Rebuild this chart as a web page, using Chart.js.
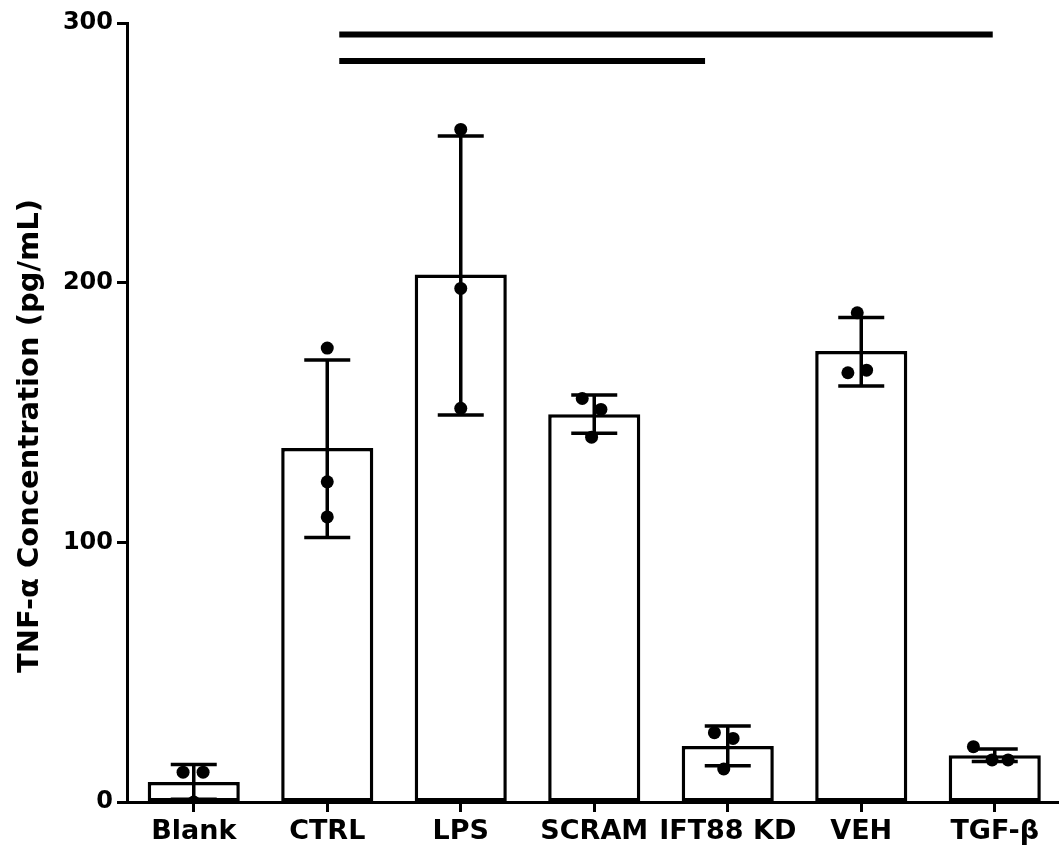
<!DOCTYPE html>
<html>
<head>
<meta charset="utf-8">
<script src="https://cdn.jsdelivr.net/npm/chart.js@4"></script>
<style>
  html, body { margin: 0; padding: 0; background: #fff; overflow: hidden; }
  #wrap { width: 1068px; height: 857px; }
</style>
</head>
<body>
<div id="wrap"><canvas id="c" width="1068" height="857"></canvas></div>
<script>
// TNF-α, média ± DP com os três pontos de cada grupo

const categories = ["Blank", "CTRL", "LPS", "SCRAM", "IFT88 KD", "VEH", "TGF-β"];
const means = [7.7, 136.3, 203.1, 149.3, 21.6, 173.7, 18.0];
const errLow = [1.1, 101.9, 149.0, 142.0, 14.0, 160.2, 15.6];
const errHigh = [14.4, 170.2, 256.5, 156.7, 29.3, 186.6, 20.4];

// replicatas (três por grupo) e o deslocamento horizontal (em categorias) de cada ponto
const repA = [11.5, 174.8, 259.0, 155.4, 26.7, 188.4, 21.3];
const repB = [11.5, 123.3, 197.8, 151.2, 24.5, 166.3, 16.2];
const repC = [0.0, 109.8, 151.6, 140.5, 12.7, 165.3, 16.2];
const jitA = [-0.08, 0, 0, -0.09, -0.10, -0.03, -0.16];
const jitB = [0.07, 0, 0, 0.05, 0.04, 0.04, -0.02];
const jitC = [0, 0, 0, -0.02, -0.03, -0.10, 0.10];

const yTicks = [0, 100, 200, 300];
const yTitle = "TNF-α Concentration (pg/mL)";

// barras de significância: início/fim em unidades de categoria, altura em pg/mL
const sigFrom = [1.09, 1.09];
const sigTo = [5.985, 3.83];
const sigY = [295.6, 285.4];

const BLACK = "#000";
const TICK_FONT = { family: "'DejaVu Sans', sans-serif", weight: "bold", size: 24 };
const CAT_FONT = { family: "'DejaVu Sans', sans-serif", weight: "bold", size: 27 };

const points = [];
[[repA, jitA], [repB, jitB], [repC, jitC]].forEach(([vals, jit]) => {
  vals.forEach((v, i) => points.push({ x: i + jit[i], y: v }));
});

// barras de erro desenhadas logo depois das barras, antes dos pontos
const errorBarPlugin = {
  id: "errorBars",
  afterDatasetDraw(chart, args) {
    if (args.index !== 0) return;
    const ctx = chart.ctx;
    const y = chart.scales.y;
    const meta = chart.getDatasetMeta(0);
    ctx.save();
    ctx.strokeStyle = BLACK;
    ctx.lineWidth = 3.5;
    meta.data.forEach((bar, i) => {
      const x = bar.x;
      const top = y.getPixelForValue(errHigh[i]);
      const bot = y.getPixelForValue(errLow[i]);
      ctx.beginPath();
      ctx.moveTo(x, top); ctx.lineTo(x, bot);
      ctx.moveTo(x - 23, top); ctx.lineTo(x + 23, top);
      ctx.moveTo(x - 23, bot); ctx.lineTo(x + 23, bot);
      ctx.stroke();
    });
    ctx.restore();
  },
};

const sigPlugin = {
  id: "sigLines",
  afterDatasetsDraw(chart) {
    const ctx = chart.ctx;
    const xs = chart.scales.xp;
    const y = chart.scales.y;
    ctx.save();
    ctx.strokeStyle = BLACK;
    ctx.lineWidth = 6;
    ctx.lineCap = "butt";
    sigY.forEach((v, i) => {
      const py = y.getPixelForValue(v);
      ctx.beginPath();
      ctx.moveTo(xs.getPixelForValue(sigFrom[i]), py);
      ctx.lineTo(xs.getPixelForValue(sigTo[i]), py);
      ctx.stroke();
    });
    ctx.restore();
  },
};

// título do eixo y um pouco abaixo do centro, como no original
const yTitlePlugin = {
  id: "yTitle",
  afterDraw(chart) {
    const ctx = chart.ctx;
    ctx.save();
    ctx.translate(30, 436);
    ctx.rotate(-Math.PI / 2);
    ctx.fillStyle = BLACK;
    ctx.font = "bold 29px 'DejaVu Sans', sans-serif";
    ctx.textAlign = "center";
    ctx.textBaseline = "middle";
    ctx.fillText(yTitle, 0, 0);
    ctx.restore();
  },
};

new Chart(document.getElementById("c"), {
  data: {
    labels: categories,
    datasets: [
      {
        type: "bar",
        data: means,
        backgroundColor: "#fff",
        borderColor: BLACK,
        borderWidth: 3.5,
        borderSkipped: false,
        grouped: false,
        barPercentage: 0.69,
        categoryPercentage: 1,
        order: 2,
      },
      {
        type: "scatter",
        data: points,
        xAxisID: "xp",
        pointRadius: 6.5,
        pointBackgroundColor: BLACK,
        pointBorderColor: BLACK,
        pointBorderWidth: 0,
        order: 1,
      },
    ],
  },
  plugins: [errorBarPlugin, sigPlugin, yTitlePlugin],
  options: {
    responsive: false,
    animation: false,
    layout: { padding: { top: 23, right: 0, bottom: 0, left: 0 } },
    plugins: { legend: { display: false }, tooltip: { enabled: false } },
    scales: {
      x: {
        type: "category",
        offset: true,
        grid: { display: true, drawOnChartArea: false, offset: false, tickLength: 10, tickColor: BLACK, tickWidth: 3 },
        border: { color: BLACK, width: 3 },
        ticks: { color: BLACK, font: CAT_FONT, padding: 4, maxRotation: 0, autoSkip: false },
        afterFit: (s) => { s.height = 55; },
      },
      xp: {
        type: "linear",
        display: false,
        min: -0.5,
        max: categories.length - 0.5,
      },
      y: {
        min: 0,
        max: 300,
        afterBuildTicks: (s) => { s.ticks = yTicks.map((v) => ({ value: v })); },
        grid: { display: true, drawOnChartArea: false, tickLength: 10, tickColor: BLACK, tickWidth: 3 },
        border: { color: BLACK, width: 3 },
        ticks: { color: BLACK, font: TICK_FONT, padding: 4 },
        afterFit: (s) => { s.width = 127; },
      },
    },
  },
});
</script>
</body>
</html>
